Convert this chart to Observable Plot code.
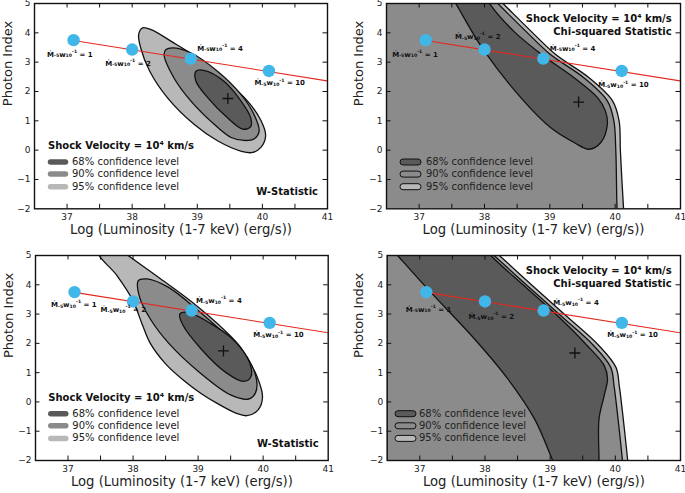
<!DOCTYPE html>
<html><head><meta charset="utf-8">
<script src="https://cdn.jsdelivr.net/npm/d3@7"></script>
<script src="https://cdn.jsdelivr.net/npm/@observablehq/plot@0.6"></script>
<style>
body{margin:0;background:#fff;}
#root{position:relative;width:685px;height:493px;overflow:hidden;background:#fff;}
#root svg{position:absolute;}
</style></head><body><div id="root"></div>
<script>
// ---- axes ----
const xDomain = [36.5, 41];
const yDomain = [-2, 5];
const xTickValues = [37, 38, 39, 40, 41];
const xMinorTickValues = [37, 37.5, 38, 38.5, 39, 39.5, 40, 40.5];
const yTickValues = [-2, -1, 0, 1, 2, 3, 4, 5];
const yInnerTickValues = [-1, 0, 1, 2, 3, 4];
const xTitle = "Log (Luminosity (1-7 keV) (erg/s))";
const yTitle = "Photon Index";

// ---- model points (wind parameter) ----
const windValues = [1, 2, 4, 10];
const modelLogL = [37.1, 38.0, 38.9, 40.1];
const modelGamma = [3.75, 3.43, 3.12, 2.70];
const trendLogL = [37.1, 41.0];
const trendGamma = [3.74, 2.36];

// ---- best fits ----
const bestWTop = [39.47, 1.76];
const bestChiTop = [39.44, 1.64];
const bestWBot = [39.39, 1.74];
const bestChiBot = [39.38, 1.67];

// ---- confidence contours (logL, Gamma) ----
const wTop95 = [[38.16,4.17],[38.30,4.10],[38.60,3.71],[39.0,3.15],[39.41,2.41],[39.77,1.68],[39.98,1.0],[40.05,0.50],[39.98,0.10],[39.85,-0.08],[39.68,-0.04],[39.31,0.32],[38.95,0.88],[38.54,1.79],[38.27,2.69],[38.13,3.49],[38.10,3.95]];
const wTop90 = [[38.52,3.43],[38.62,3.49],[38.90,3.32],[39.31,2.69],[39.67,1.90],[39.87,1.22],[39.95,0.65],[39.87,0.38],[39.72,0.33],[39.52,0.43],[39.26,0.88],[38.90,1.68],[38.64,2.47],[38.49,3.26]];
const wTop68 = [[38.98,2.69],[39.10,2.72],[39.41,2.35],[39.67,1.68],[39.82,1.11],[39.82,0.80],[39.70,0.72],[39.46,1.11],[39.16,1.79],[38.98,2.35]];

const wBot95 = [[37.52,5.7],[37.82,5.17],[38.39,4.26],[38.90,3.42],[39.41,2.44],[39.65,1.87],[39.91,0.84],[39.99,0.15],[39.92,-0.28],[39.75,-0.47],[39.58,-0.38],[39.30,-0.06],[39.05,0.28],[38.78,0.73],[38.50,1.30],[38.27,1.98],[38.14,2.65],[38.0,3.45],[37.75,4.32],[37.44,5.17]];
const wBot90 = [[38.08,4.14],[38.21,4.20],[38.54,3.92],[39.0,3.12],[39.46,2.21],[39.76,1.50],[39.90,0.73],[39.88,0.30],[39.78,0.10],[39.50,0.24],[39.0,1.05],[38.55,2.0],[38.28,2.78],[38.10,3.58]];
const wBot68 = [[38.72,3.01],[38.85,3.06],[39.16,2.72],[39.53,2.15],[39.79,1.35],[39.81,0.85],[39.70,0.70],[39.43,1.0],[39.05,1.80],[38.76,2.65]];

const chiTop95 = [[38.00,5.6],[38.25,5.07],[38.66,4.17],[39.09,3.26],[39.60,2.47],[39.96,1.68],[40.06,1.0],[40.08,-0.02],[40.13,-2.05],[40.15,-2.6],[36.0,-2.6],[36.0,5.6]];
const chiTop90 = [[37.92,5.6],[38.17,5.07],[38.58,4.17],[39.01,3.26],[39.52,2.47],[39.88,1.68],[39.98,1.0],[40.01,-0.02],[40.03,-2.05],[40.05,-2.6],[36.0,-2.6],[36.0,5.6]];
const chiTop68 = [[37.45,5.4],[37.56,5.0],[37.99,3.40],[38.60,1.68],[39.01,0.77],[39.37,0.26],[39.60,0.03],[39.78,0.26],[39.88,0.88],[39.85,1.34],[39.73,1.79],[39.37,2.47],[38.91,3.20],[38.45,4.05],[38.09,4.96],[37.98,5.4]];

const chiBot95 = [[37.98,5.5],[38.22,5.0],[38.73,3.97],[39.24,2.95],[39.75,1.92],[40.01,1.18],[40.06,0.56],[40.11,-0.35],[40.19,-2.0],[40.21,-2.5],[36.0,-2.5],[36.0,5.5]];
const chiBot90 = [[37.90,5.5],[38.14,5.0],[38.65,3.97],[39.16,2.95],[39.67,1.92],[39.93,1.18],[39.98,0.56],[40.03,-0.35],[40.11,-2.0],[40.13,-2.5],[36.0,-2.5],[36.0,5.5]];
const chiBot68 = [[36.50,5.4],[36.66,5.0],[37.12,3.86],[37.84,2.15],[38.35,0.79],[38.76,-0.58],[39.04,-2.0],[39.12,-2.4],[39.75,-2.4],[39.75,-2.0],[39.75,-0.58],[39.83,0.22],[39.88,0.79],[39.83,1.24],[39.57,1.92],[39.11,2.95],[38.60,3.97],[38.09,5.0],[37.95,5.4]];

// ---- legend text ----
const levelNames = ["68% confidence level", "90% confidence level", "95% confidence level"];
const shockText = "Shock Velocity = 10\u2074 km/s";
const wStatText = "W-Statistic";
const chiStatText = "Chi-squared Statistic";

// ---- styles ----
const C68 = "#5a5a5a", C90 = "#8b8b8b", C95 = "#b8b8b8";
const levelColors = [C68, C90, C95];
const BLUE = "#41b6e8", RED = "#e5281f", INK = "#111";
const TICK = 4.5;

const panels = [
  {left:0, top:0, width:340, height:245, mt:3, mb:36.7, ml:34, mr:13, kind:"W",
   regions:[wTop95, wTop90, wTop68], best:bestWTop,
   ldx:[-26,-26.5,7,-14], ldy:[15,14.6,-9.5,13], titleDy:25.5, yTitleDx:-27, legX:14},
  {left:340, top:0, width:345, height:245, mt:3, mb:36.7, ml:46, mr:5, kind:"chi",
   regions:[chiTop95, chiTop90, chiTop68], best:bestChiTop,
   ldx:[-33,-29,7,-23], ldy:[15,-12,-9.5,15], titleDy:25.5, yTitleDx:-28, legX:14, legTextX:40},
  {left:0, top:245, width:340, height:248, mt:10, mb:33, ml:35, mr:12.3, kind:"W",
   regions:[wBot95, wBot90, wBot68], best:bestWBot,
   ldx:[-23,-32,5,-16], ldy:[13.4,9,-9,13], titleDy:25.5, yTitleDx:-27, legX:13.3},
  {left:340, top:245, width:345, height:248, mt:10, mb:33, ml:46.7, mr:5, kind:"chi",
   regions:[chiBot95, chiBot90, chiBot68], best:bestChiBot,
   ldx:[-20,-16,10,-14], ldy:[18,16,-7,13], titleDy:25.5, yTitleDx:-28, legX:8.3, legTextX:32.3}
];

const root = document.getElementById("root");
const modelPts = modelLogL.map((x, i) => ({x, y: modelGamma[i], w: windValues[i]}));
const trendPts = trendLogL.map((x, i) => ({x, y: trendGamma[i]}));

panels.forEach(p => {
  const fw = p.width - p.ml - p.mr, fh = p.height - p.mt - p.mb;
  const regionMark = (pts, fill) => Plot.line(pts, {
    x: d => d[0], y: d => d[1], curve: "catmull-rom-closed",
    fill, stroke: INK, strokeWidth: 1.3, clip: true
  });
  const plot = Plot.plot({
    width: p.width, height: p.height,
    marginTop: p.mt, marginBottom: p.mb, marginLeft: p.ml, marginRight: p.mr,
    x: {domain: xDomain},
    y: {domain: yDomain},
    style: {fontFamily: "DejaVu Sans", fontSize: "9px", color: INK, background: "transparent", overflow: "visible"},
    marks: [
      regionMark(p.regions[0], C95),
      regionMark(p.regions[1], C90),
      regionMark(p.regions[2], C68),
      Plot.line(trendPts, {x: "x", y: "y", stroke: RED, strokeWidth: 1.1, clip: true}),
      Plot.dot(modelPts, {x: "x", y: "y", r: 6.2, fill: BLUE}),
      Plot.dot([p.best], {x: d => d[0], y: d => d[1], symbol: "plus", r: 3.6, stroke: INK, strokeWidth: 1.3}),
      // inward tick marks on all four sides
      Plot.tickX(xMinorTickValues, {x: d => d, insetTop: fh - TICK, stroke: INK, strokeWidth: 1}),
      Plot.tickX(xMinorTickValues, {x: d => d, insetBottom: fh - TICK, stroke: INK, strokeWidth: 1}),
      Plot.tickY(yInnerTickValues, {y: d => d, insetRight: fw - TICK, stroke: INK, strokeWidth: 1}),
      Plot.tickY(yInnerTickValues, {y: d => d, insetLeft: fw - TICK, stroke: INK, strokeWidth: 1}),
      Plot.axisX(xTickValues, {anchor: "bottom", tickSize: 0, tickPadding: 5, label: null, fill: "#222"}),
      Plot.axisY(yTickValues, {anchor: "left", tickSize: 0, tickPadding: 4, label: null, fill: "#222"}),
      Plot.frame({stroke: INK, strokeWidth: 1.4}),
      Plot.text([xTitle], {text: d => d, frameAnchor: "bottom", dy: p.titleDy, fontSize: 13.2, fill: "#222"}),
      Plot.text([yTitle], {text: d => d, frameAnchor: "left", dx: p.yTitleDx, rotate: -90, fontSize: 13, fill: "#222"})
    ]
  });
  plot.style.left = p.left + "px";
  plot.style.top = p.top + "px";
  root.appendChild(plot);

  const sx = plot.scale("x"), sy = plot.scale("y");
  const fl = p.ml, fr = p.width - p.mr, ft = p.mt, fb = p.height - p.mb;
  const g = d3.select(plot).append("g").attr("font-family", "DejaVu Sans")
    .attr("fill", INK).attr("text-anchor", "start");

  // model labels
  modelPts.forEach((d, i) => {
    const t = g.append("text")
      .attr("x", sx.apply(d.x) + p.ldx[i]).attr("y", sy.apply(d.y) + p.ldy[i])
      .attr("text-anchor", "start")
      .attr("font-weight", "bold").attr("font-size", 7).attr("dominant-baseline", "middle")
      .style("white-space", "pre");
    t.append("tspan").text("\u1E40");
    t.append("tspan").attr("font-size", 4.6).attr("dy", 1.6).text("-5");
    t.append("tspan").attr("dy", -1.6).text("w");
    t.append("tspan").attr("font-size", 4.6).attr("dy", 1.6).text("10");
    t.append("tspan").attr("font-size", 4.6).attr("dy", -4.2).text("-1");
    t.append("tspan").attr("dy", 2.6).text(" = " + d.w);
  });

  const rowsY = [fb - 46.3, fb - 34.2, fb - 21.6];
  if (p.kind === "W") {
    g.append("text").attr("x", fl + p.legX).attr("y", fb - 62.5).attr("dominant-baseline", "middle")
      .attr("text-anchor", "start").attr("font-weight", "bold").attr("font-size", 10).text(shockText);
    levelNames.forEach((name, i) => {
      g.append("line").attr("x1", fl + p.legX + 2.5).attr("x2", fl + p.legX + 17.5)
        .attr("y1", rowsY[i]).attr("y2", rowsY[i])
        .attr("stroke", levelColors[i]).attr("stroke-width", 5.5).attr("stroke-linecap", "round");
      g.append("text").attr("x", fl + p.legX + 24).attr("y", rowsY[i]).attr("dominant-baseline", "middle")
        .attr("text-anchor", "start").attr("font-size", 10).attr("fill", "#222").text(name);
    });
    g.append("text").attr("x", fr - 9).attr("y", fb - 16).attr("dominant-baseline", "middle")
      .attr("text-anchor", "end").attr("font-weight", "bold").attr("font-size", 10).text(wStatText);
  } else {
    g.append("text").attr("x", fr - 8.3).attr("y", ft + 16).attr("dominant-baseline", "middle")
      .attr("text-anchor", "end").attr("font-weight", "bold").attr("font-size", 10).text(shockText);
    g.append("text").attr("x", fr - 8.3).attr("y", ft + 29).attr("dominant-baseline", "middle")
      .attr("text-anchor", "end").attr("font-weight", "bold").attr("font-size", 10).text(chiStatText);
    levelNames.forEach((name, i) => {
      g.append("rect").attr("x", fl + p.legX).attr("y", rowsY[i] - 3).attr("width", 21).attr("height", 6)
        .attr("rx", 3).attr("fill", levelColors[i]).attr("stroke", INK).attr("stroke-width", 1);
      g.append("text").attr("x", fl + p.legTextX).attr("y", rowsY[i]).attr("dominant-baseline", "middle")
        .attr("text-anchor", "start").attr("font-size", 10).attr("fill", "#222").text(name);
    });
  }
});
</script>
</body></html>
